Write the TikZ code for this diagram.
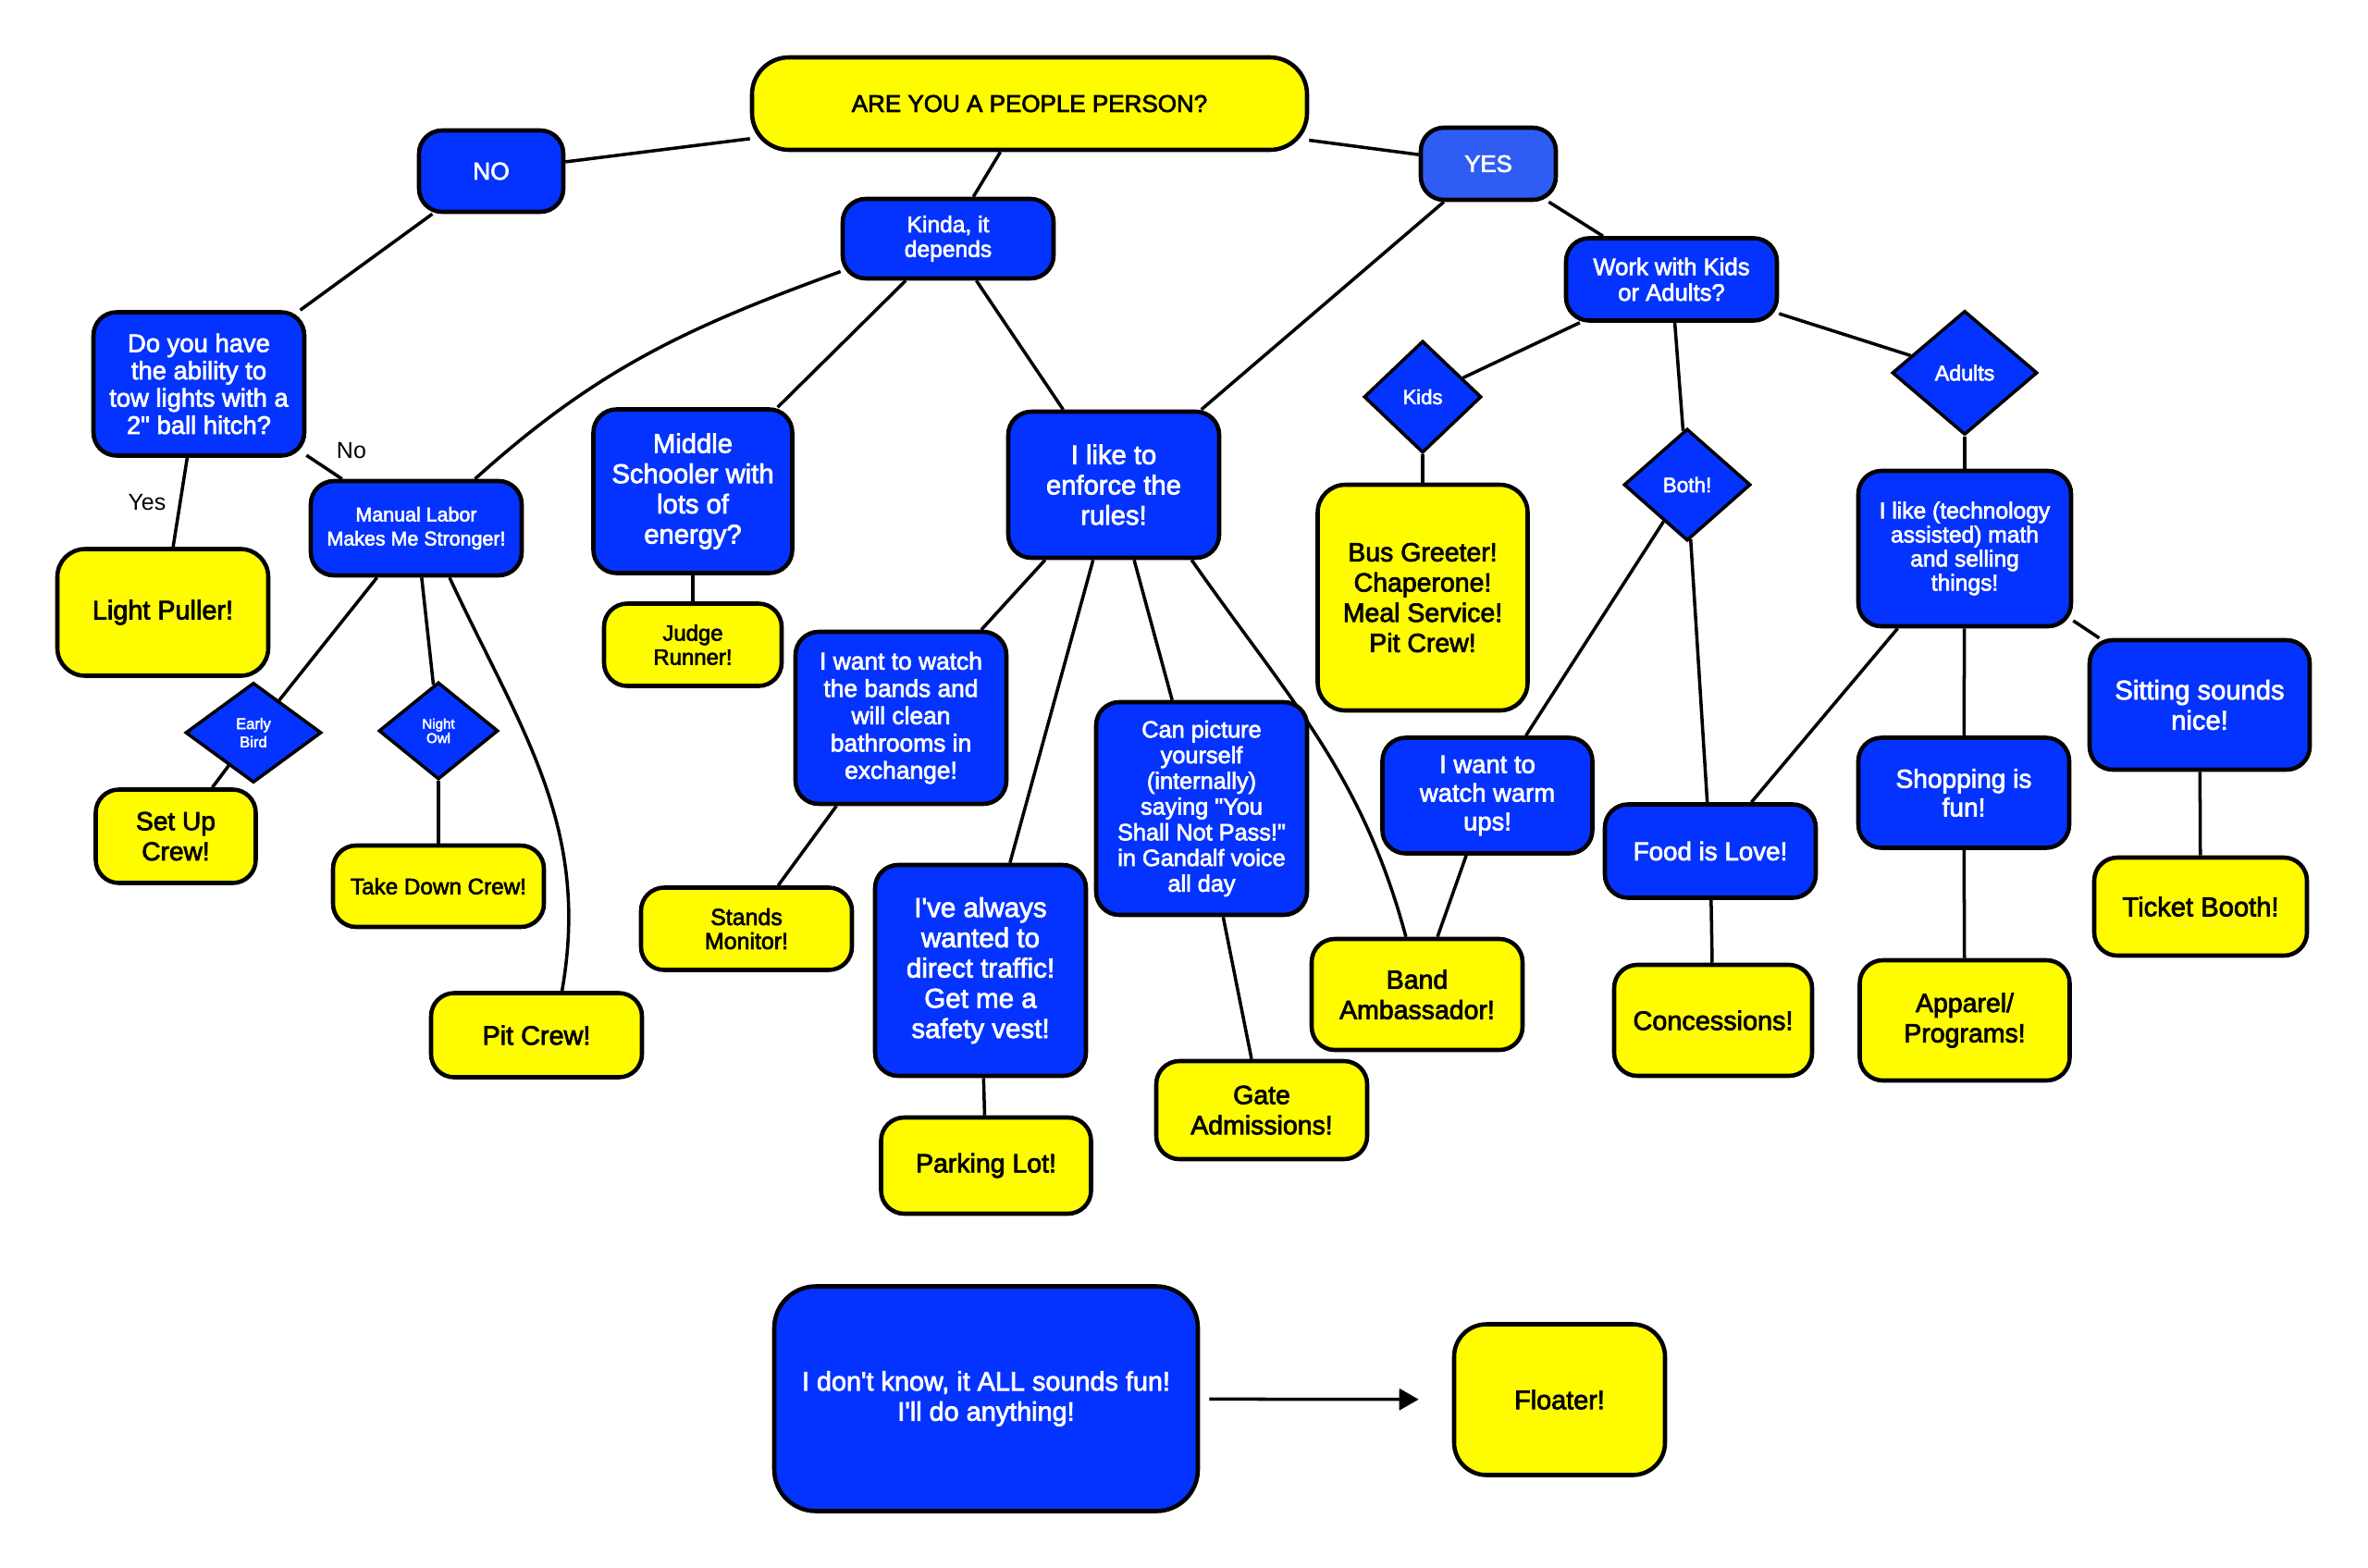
\documentclass[tikz,border=0pt]{standalone}
\usepackage{fontspec}
\setmainfont{Liberation Sans}[Ligatures=TeXOff, FakeBold=2.6]
\newfontfamily\plainfont{Liberation Sans}[Ligatures=TeXOff]
\usepackage{tikz}
\usetikzlibrary{arrows.meta}
\usetikzlibrary{shapes.geometric}
\usetikzlibrary{backgrounds}
\definecolor{boxblue}{HTML}{0433FF}
\definecolor{yesblue}{HTML}{2F5CF2}
\definecolor{boxyellow}{HTML}{FFFC00}
\newcommand{\fsz}[2]{\fontsize{#1}{#2}\selectfont}
\tikzset{
bluebox/.style={rectangle, rounded corners=0.25cm, draw=black, line width=1.3pt, fill=boxblue, text=white, align=center, inner sep=0pt},
yellowbox/.style={rectangle, rounded corners=0.25cm, draw=black, line width=1.3pt, fill=boxyellow, text=black, align=center, inner sep=0pt},
choice/.style={diamond, draw=black, line width=1pt, fill=boxblue, text=white, align=center, inner sep=0pt},
link/.style={line width=1pt}}

\begin{document}
\begin{tikzpicture}
    \useasboundingbox (0,0) rectangle (25.6,-16.94);

                \node[yellowbox, rounded corners=0.4cm, minimum width=6.0cm, minimum height=1.0cm, font=\fsz{7.4}{8.4}] (root) at (11.13,-1.12) {ARE YOU A PEOPLE PERSON?};
                \node[bluebox, minimum width=1.56cm, minimum height=0.88cm, font=\fsz{7.5}{8.4}] (no) at (5.31,-1.85) {NO};
                \node[bluebox, fill=yesblue, minimum width=1.46cm, minimum height=0.78cm, font=\fsz{7.3}{8.4}] (yes) at (16.09,-1.77) {YES};
                \node[bluebox, minimum width=2.28cm, minimum height=0.86cm, font=\fsz{7}{7.6}] (kinda) at (10.25,-2.58) {Kinda, it\\depends};
                \node[bluebox, minimum width=2.28cm, minimum height=0.89cm, font=\fsz{7.3}{7.9}] (work) at (18.07,-3.02) {Work with Kids\\or Adults?};

                \node[bluebox, minimum width=2.28cm, minimum height=1.55cm, font=\fsz{7.8}{8.4}] (tow) at (2.15,-4.15) {Do you have\\the ability to\\tow lights with a\\2" ball hitch?};
                \node[bluebox, minimum width=2.28cm, minimum height=1.02cm, font=\fsz{6.1}{7.4}] (manual) at (4.50,-5.71) {Manual Labor\\Makes Me Stronger!};
                \node[bluebox, minimum width=2.15cm, minimum height=1.77cm, font=\fsz{8.3}{9.3}] (middle) at (7.49,-5.31) {Middle\\Schooler with\\lots of\\energy?};
                \node[bluebox, minimum width=2.28cm, minimum height=1.58cm, font=\fsz{8.3}{9.3}] (rules) at (12.04,-5.24) {I like to\\enforce the\\rules!};

                \node[choice, minimum width=1.27cm, minimum height=1.21cm, font=\fsz{6.3}{7}] (kids) at (15.38,-4.29) {Kids};
                \node[choice, minimum width=1.37cm, minimum height=1.21cm, font=\fsz{6.4}{7}] (both) at (18.24,-5.24) {Both!};
                \node[choice, minimum width=1.57cm, minimum height=1.34cm, font=\fsz{6.6}{7}] (adults) at (21.24,-4.03) {Adults};
                \node[choice, minimum width=1.47cm, minimum height=1.08cm, font=\fsz{4.7}{5.6}] (early) at (2.74,-7.92) {Early\\Bird};
                \node[choice, minimum width=1.29cm, minimum height=1.05cm, font=\fsz{4.3}{4.4}] (night) at (4.74,-7.90) {Night\\Owl};

                \node[yellowbox, rounded corners=0.3cm, minimum width=2.27cm, minimum height=2.44cm, font=\fsz{8.1}{9.3}] (bus) at (15.38,-6.46) {Bus Greeter!\\Chaperone!\\Meal Service!\\Pit Crew!};
                \node[bluebox, minimum width=2.30cm, minimum height=1.68cm, font=\fsz{7}{7.4}] (tech) at (21.24,-5.93) {I like (technology\\assisted) math\\and selling\\things!};
                \node[yellowbox, rounded corners=0.3cm, minimum width=2.28cm, minimum height=1.37cm, font=\fsz{8.2}{9.3}] (light) at (1.76,-6.62) {Light Puller!};
                \node[yellowbox, minimum width=1.92cm, minimum height=0.89cm, font=\fsz{6.8}{7.4}] (judge) at (7.49,-6.97) {Judge\\Runner!};
                \node[bluebox, minimum width=2.28cm, minimum height=1.86cm, font=\fsz{7.5}{8.4}] (bands) at (9.74,-7.76) {I want to watch\\the bands and\\will clean\\bathrooms in\\exchange!};
                \node[bluebox, minimum width=2.28cm, minimum height=2.30cm, font=\fsz{7.2}{7.9}] (gandalf) at (12.99,-8.74) {Can picture\\yourself\\(internally)\\saying "You\\Shall Not Pass!"\\in Gandalf voice\\all day};
                \node[bluebox, minimum width=2.27cm, minimum height=1.25cm, font=\fsz{7.8}{8.8}] (warmup) at (16.08,-8.60) {I want to\\watch warm\\ups!};
                \node[bluebox, minimum width=2.28cm, minimum height=1.01cm, font=\fsz{7.9}{8.8}] (food) at (18.49,-9.20) {Food is Love!};
                \node[bluebox, minimum width=2.28cm, minimum height=1.19cm, font=\fsz{8}{8.8}] (shop) at (21.23,-8.57) {Shopping is\\fun!};
                \node[bluebox, minimum width=2.38cm, minimum height=1.40cm, font=\fsz{8.3}{9.3}] (sit) at (23.78,-7.62) {Sitting sounds\\nice!};

                \node[yellowbox, minimum width=1.73cm, minimum height=1.01cm, font=\fsz{8}{9.3}] (setup) at (1.90,-9.04) {Set Up\\Crew!};
                \node[yellowbox, minimum width=2.28cm, minimum height=0.88cm, font=\fsz{6.9}{7.4}] (takedown) at (4.74,-9.58) {Take Down Crew!};
                \node[yellowbox, minimum width=2.28cm, minimum height=0.91cm, font=\fsz{8.2}{9.3}] (pit) at (5.80,-11.19) {Pit Crew!};
                \node[yellowbox, minimum width=2.28cm, minimum height=0.89cm, font=\fsz{7.1}{7.4}] (stands) at (8.07,-10.04) {Stands\\Monitor!};
                \node[bluebox, minimum width=2.28cm, minimum height=2.28cm, font=\fsz{8.4}{9.3}] (traffic) at (10.60,-10.49) {I've always\\wanted to\\direct traffic!\\Get me a\\safety vest!};
                \node[yellowbox, minimum width=2.27cm, minimum height=1.04cm, font=\fsz{8.1}{9.3}] (parking) at (10.66,-12.60) {Parking Lot!};
                \node[yellowbox, minimum width=2.28cm, minimum height=1.06cm, font=\fsz{8.1}{9.3}] (gate) at (13.64,-12.00) {Gate\\Admissions!};
                \node[yellowbox, minimum width=2.28cm, minimum height=1.20cm, font=\fsz{8.1}{9.3}] (amb) at (15.32,-10.75) {Band\\Ambassador!};
                \node[yellowbox, minimum width=2.14cm, minimum height=1.20cm, font=\fsz{8.2}{9.3}] (conc) at (18.52,-11.03) {Concessions!};
                \node[yellowbox, minimum width=2.27cm, minimum height=1.30cm, font=\fsz{8.1}{9.3}] (apparel) at (21.24,-11.03) {Apparel/\\Programs!};
                \node[yellowbox, minimum width=2.30cm, minimum height=1.06cm, font=\fsz{8.3}{9.3}] (ticket) at (23.79,-9.80) {Ticket Booth!};

                \node[bluebox, rounded corners=0.45cm, minimum width=4.58cm, minimum height=2.43cm, font=\fsz{8.2}{9.3}] (anything) at (10.66,-15.12) {I don't know, it ALL sounds fun!\\I'll do anything!};
                \node[yellowbox, rounded corners=0.35cm, minimum width=2.28cm, minimum height=1.63cm, font=\fsz{8.2}{9.3}] (floater) at (16.86,-15.13) {Floater!};

            \begin{scope}[on background layer]
                \draw[link] (root) -- (no);
                \draw[link] (root) -- (yes);
                \draw[link] (root) -- (kinda);
                \draw[link] (no) -- (tow);
                \draw[link] (tow) -- (light) node[midway, left=0.02cm, font=\plainfont\fsz{7.1}{8}] {Yes};
                \draw[link] (tow) -- (manual) node[midway, right, yshift=0.18cm, font=\plainfont\fsz{7.1}{8}] {No};
                \draw[link] (kinda.197) to[out=200, in=42] (manual.40);
                \draw[link] (kinda) -- (middle);
                \draw[link] (kinda) -- (rules);
                \draw[link] (yes) -- (rules);
                \draw[link] (yes) -- (work);
                \draw[link] (work) -- (kids);
                \draw[link] (work) -- (both);
                \draw[link] (work) -- (adults);
                \draw[link] (kids) -- (bus);
                \draw[link] (adults) -- (tech);
                \draw[link] (middle) -- (judge);
                \draw[link] (manual) -- (early);
                \draw[link] (early) -- (setup);
                \draw[link] (manual) -- (night);
                \draw[link] (night) -- (takedown);
                \draw[link] (manual.-56) to[out=-65, in=80] (pit.60);
                \draw[link] (rules) -- (bands);
                \draw[link] (rules) -- (traffic);
                \draw[link] (rules) -- (gandalf);
                \draw[link] (rules.-44) to[out=-55, in=105] (amb.101);
                \draw[link] (bands) -- (stands);
                \draw[link] (traffic) -- (parking);
                \draw[link] (gandalf) -- (gate);
                \draw[link] (warmup) -- (amb);
                \draw[link] (both) -- (warmup);
                \draw[link] (both) -- (food);
                \draw[link] (tech) -- (food);
                \draw[link] (tech) -- (shop);
                \draw[link] (tech) -- (sit);
                \draw[link] (food) -- (conc);
                \draw[link] (shop) -- (apparel);
                \draw[link] (sit) -- (ticket);
            \end{scope}

                \draw[link, -{Triangle[length=2.1mm, width=2.3mm]}, shorten <=0.1cm, shorten >=0.36cm] (anything) -- (floater);

\end{tikzpicture}
\end{document}
